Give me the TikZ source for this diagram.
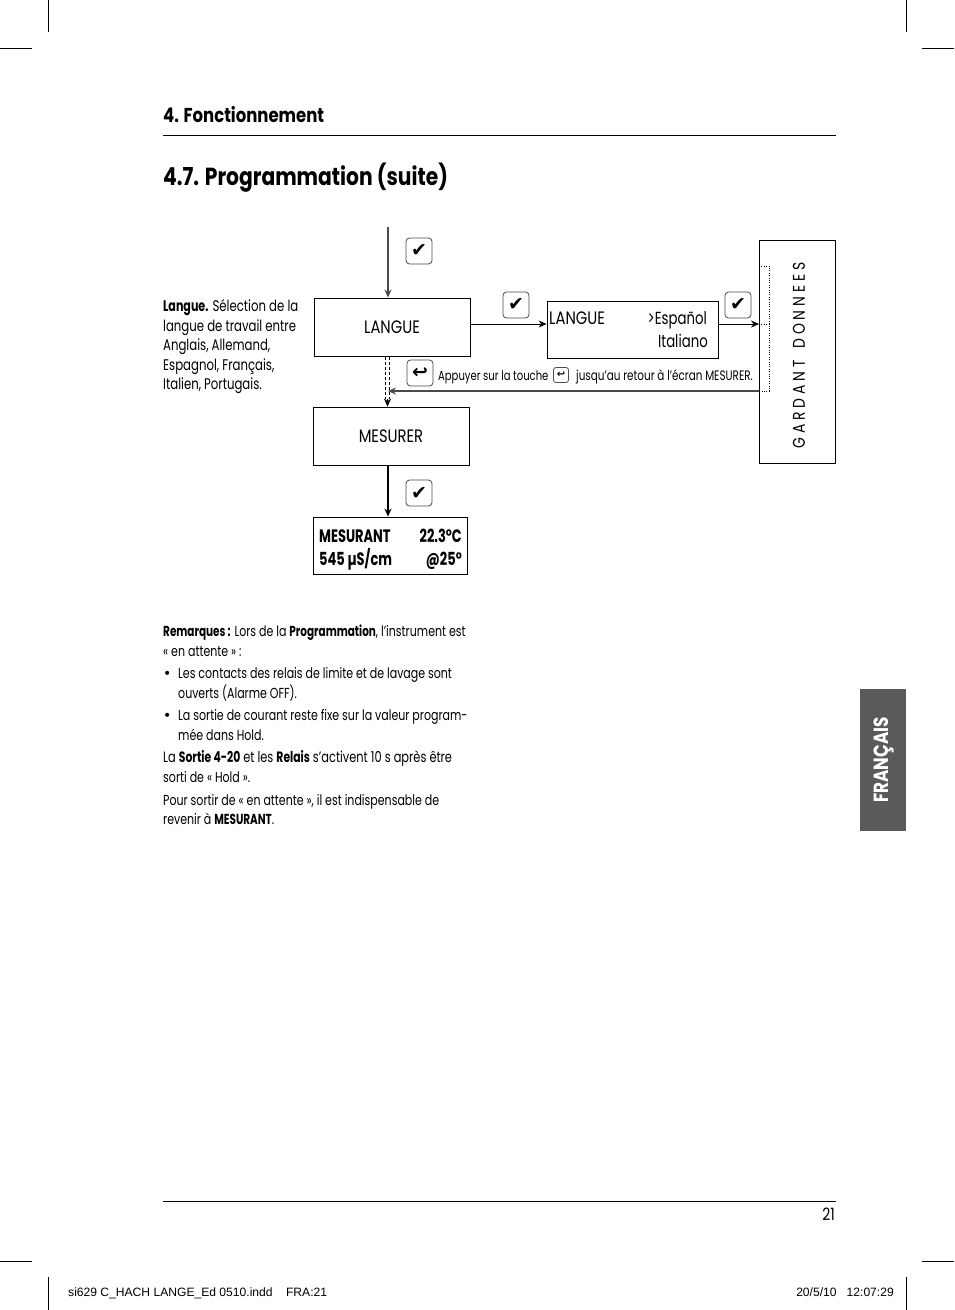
\documentclass[tikz,border=0pt]{standalone}
\usepackage{fontspec}
\setmainfont[FakeStretch=0.76,BoldFeatures={FakeStretch=0.72}]{Poppins}
\newfontfamily\headfont[FakeStretch=0.82]{Poppins}
\newfontfamily\symfont{DejaVu Sans}
\newfontfamily\footfont{Liberation Sans}
\usetikzlibrary{arrows.meta}
\definecolor{tabgray}{HTML}{5A5A5A}
\definecolor{linegray}{HTML}{4A4A4A}
\tikzset{
	body/.style={anchor=base west, inner sep=0pt, font=\fontsize{14.5}{16}\selectfont},
	side/.style={anchor=base west, inner sep=0pt, font=\fontsize{15.4}{17}\selectfont},
	small/.style={anchor=base west, inner sep=0pt, font=\fontsize{13.2}{15}\selectfont},
	menubox/.style={draw, line width=0.8pt, inner sep=0pt},
	menutext/.style={anchor=base west, inner sep=0pt, font=\fontsize{17.5}{21}\selectfont},
	capstext/.style={anchor=base west, inner sep=0pt, font=\headfont\fontsize{18}{21}\selectfont},
	valuetext/.style={anchor=base west, inner sep=0pt, font=\bfseries\fontsize{18}{21}\selectfont},
	keybox/.style={draw=black!70, line width=0.8pt, rounded corners=3.5pt, minimum size=26pt, inner sep=0pt, font=\symfont\bfseries\fontsize{19}{22}\selectfont},
	flow/.style={-{Stealth[length=8pt,width=7pt]}, line width=0.9pt},
	dots/.style={line width=0.5pt, dash pattern=on 0.8pt off 1.6pt},
	crop/.style={line width=0.6pt}
}
\newcommand{\txtb}[1]{\textbf{#1}}
\newcommand{\gap}{\hspace{3.9pt}}
\begin{document}
\begin{tikzpicture}[x=1pt,y=-1pt]
	%%%%% PAGE %%%%%
	\useasboundingbox (0,0) rectangle (954,1310);
	\fill[white] (0,0) rectangle (954,1310);
	\draw[crop] (48,0) -- (48,32);
	\draw[crop] (0,48) -- (32,48);
	\draw[crop] (906,0) -- (906,32);
	\draw[crop] (922,48) -- (954,48);
	\draw[crop] (0,1261) -- (32,1261);
	\draw[crop] (48,1277) -- (48,1310);
	\draw[crop] (922,1261) -- (954,1261);
	\draw[crop] (906,1277) -- (906,1310);

	\node[anchor=base west, inner sep=0pt, font=\headfont\bfseries\fontsize{20.1}{24}\selectfont] (chapter) at (163,122) {4. Fonctionnement};
	\draw[line width=0.7pt] (163,135) -- (836,135);
	\node[anchor=base west, inner sep=0pt, font=\headfont\bfseries\fontsize{24.7}{30}\selectfont] (title) at (163,185.5) {4.7. Programmation (suite)};

	%%%%% LEFT TEXT %%%%%
	\node[side] (la) at (163,311) {\txtb{Langue.} Sélection de la};
	\node[side] (lb) at (163,331) {langue de travail entre};
	\node[side] (lc) at (163,350) {Anglais, Allemand,};
	\node[side] (ld) at (163,370) {Espagnol, Français,};
	\node[side] (le) at (163,389) {Italien, Portugais.};

	%%%%% FLOW %%%%%
	\node[menubox, minimum width=156pt, minimum height=58pt] (langue) at (392,327) {};
	\node[capstext, anchor=base] (languet) at (392,333) {LANGUE};
	\node[menubox, minimum width=171pt, minimum height=57pt] (choix) at (632.5,329.5) {};
	\node[capstext] (choixa) at (549,324) {LANGUE};
	\node[menutext, anchor=base east] (choixb) at (707,324.5) {>Español};
	\node[menutext, anchor=base east] (choixc) at (708,347) {Italiano};
	\node[menubox, minimum width=156pt, minimum height=58pt] (mesurer) at (391,436) {};
	\node[capstext, anchor=base] (mesurert) at (391,442) {MESURER};
	\node[menubox, minimum width=154pt, minimum height=57pt] (mesurant) at (390,545.5) {};
	\node[valuetext] (ma) at (319,542) {MESURANT};
	\node[valuetext, anchor=base east] (mb) at (462,542) {22.3°C};
	\node[valuetext] (mc) at (319,565) {545 µS/cm};
	\node[valuetext, anchor=base east] (md) at (462,565) {@25°};
	\node[menubox, minimum width=76pt, minimum height=223pt] (gardant) at (797,351.5) {};
	\node[rotate=90, inner sep=0pt, font=\headfont\fontsize{17}{20}\selectfont] (gardantt) at (799,355.5) {G\gap A\gap R\gap D\gap A\gap N\gap T\ \ \ D\gap O\gap N\gap N\gap E\gap E\gap S};

	\node[keybox] (ka) at (419,251) {✔};
	\node[keybox] (kb) at (516,305) {✔};
	\node[keybox] (kc) at (738,305) {✔};
	\node[keybox] (kd) at (419,493) {✔};
	\node[keybox] (ke) at (420,373) {↩};
	\node[small] (appuyer) at (438,380) {Appuyer sur la touche};
	\node[keybox, minimum size=15pt, rounded corners=2.5pt, font=\symfont\bfseries\fontsize{10}{11}\selectfont] (kf) at (561,375) {↩};
	\node[small, font=\fontsize{13.7}{15}\selectfont] (retour) at (576,380) {jusqu’au retour à l’écran MESURER.};

	\coordinate (start) at (388,227);
	\coordinate (dotup) at (769,266);
	\coordinate (dotin) at (769,324);
	\coordinate (dotout) at (769,391);
	\coordinate (boxin) at (759,324);
	\coordinate (boxout) at (759,391);
	\coordinate (boxup) at (759,266);
	\coordinate (join) at (388,391);
	\coordinate (dashl) at (385.5,357);
	\coordinate (dashr) at (389.3,357);
	\coordinate (dashend) at (387.5,399);

	\draw[flow, color=linegray, line width=1.3pt] (start) -- (start |- langue.north);
	\draw[flow] (langue.east |- boxin) -- (choix.west |- boxin);
	\draw[flow] (choix.east |- boxin) -- (boxin);
	\draw[flow, color=linegray, line width=1.4pt] (boxout) -- (join);
	\draw[line width=1pt, dash pattern=on 3pt off 2pt] (dashl) -- (dashl |- dashend);
	\draw[line width=1pt, dash pattern=on 3pt off 2pt] (dashr) -- (dashr |- dashend);
	\draw[flow, line width=0.4pt] (dashend) -- (dashend |- mesurer.north);
	\draw[flow, line width=1.6pt] (start |- mesurer.south) -- (start |- mesurant.north);
	\draw[dots] (boxup) -- (dotup) -- (dotout) -- (boxout);
	\draw[dots] (boxin) -- (dotin);

	%%%%% REMARKS %%%%%
	\node[body] (ra) at (163,636) {\txtb{Remarques :} Lors de la \txtb{Programmation}, l’instrument est};
	\node[body] (rb) at (163,656) {« en attente » :};
	\node[body, font=\symfont\fontsize{14}{16}\selectfont] (bua) at (163,678) {•};
	\node[body] (rc) at (178,678) {Les contacts des relais de limite et de lavage sont};
	\node[body] (rd) at (178,698) {ouverts (Alarme OFF).};
	\node[body, font=\symfont\fontsize{14}{16}\selectfont] (bub) at (163,720) {•};
	\node[body] (re) at (178,720) {La sortie de courant reste fixe sur la valeur program-};
	\node[body] (rf) at (178,740) {mée dans Hold.};
	\node[body, font=\fontsize{15}{17}\selectfont] (rg) at (163,762) {La \txtb{Sortie 4-20} et les \txtb{Relais} s’activent 10 s après être};
	\node[body] (rh) at (163,782) {sorti de « Hold ».};
	\node[body] (ri) at (163,805) {Pour sortir de « en attente », il est indispensable de};
	\node[body] (rj) at (163,824) {revenir à \txtb{MESURANT}.};

	%%%%% TAB + FOOTER %%%%%
	\fill[tabgray] (860,689) rectangle (906,831);
	\node[rotate=90, text=white, inner sep=0pt, font=\headfont\bfseries\fontsize{20.5}{24}\selectfont] (tab) at (884,760) {FRANÇAIS};

	\draw[line width=0.7pt] (163,1201) -- (836,1201);
	\node[anchor=base east, inner sep=0pt, font=\headfont\fontsize{17}{20}\selectfont] (page) at (835,1220) {21};
	\node[anchor=base west, inner sep=0pt, font=\footfont\fontsize{12.1}{14}\selectfont] (fa) at (68,1296) {si629 C\_HACH LANGE\_Ed 0510.indd\ \ \ \ FRA:21};
	\node[anchor=base east, inner sep=0pt, font=\footfont\fontsize{12.1}{14}\selectfont] (fb) at (894,1296) {20/5/10\ \ \ 12:07:29};
\end{tikzpicture}
\end{document}
